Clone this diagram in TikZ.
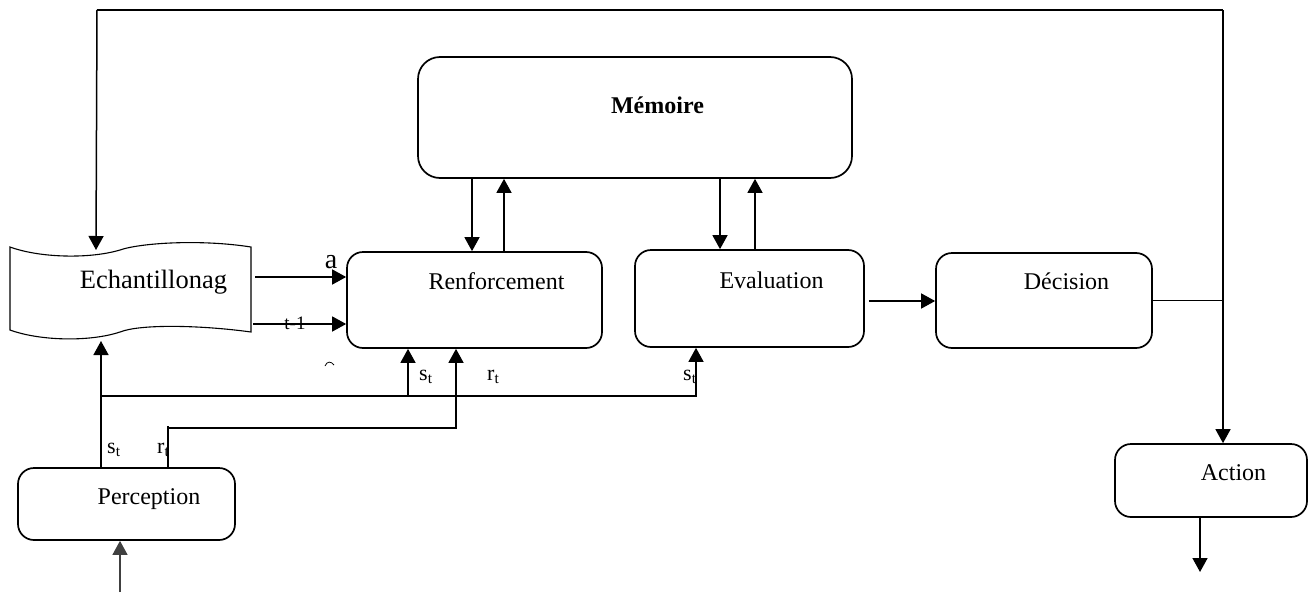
\documentclass[tikz,border=0pt]{standalone}
\usepackage{fontspec}
\setmainfont{Liberation Serif}
\usetikzlibrary{arrows.meta}

\begin{document}
\begin{tikzpicture}[x=1pt,y=-1pt,
  box/.style={draw, line width=1.7pt, rounded corners=16pt, inner sep=0pt},
  link/.style={line width=1.5pt},
  arr/.style={link, -{Triangle[length=14pt,width=15pt]}},
  txt/.style={font=\fontsize{24}{28}\selectfont, inner sep=0pt, anchor=base},
  lab/.style={font=\fontsize{22}{26}\selectfont, inner sep=0pt, anchor=base west}]
\useasboundingbox (0,0) rectangle (1313,597);

% --- blocks ---
\node[box, minimum width=434pt, minimum height=121pt, rounded corners=22pt] (mem) at (635,117.5) {};
\node[box, minimum width=255pt, minimum height=96pt] (renf) at (474.5,300) {};
\node[box, minimum width=229pt, minimum height=97pt] (eval) at (749.5,298.5) {};
\node[box, minimum width=216pt, minimum height=95pt] (dec) at (1044,300.5) {};
\node[box, minimum width=192pt, minimum height=73pt] (act) at (1211,480.5) {};
\node[box, minimum width=217pt, minimum height=72pt] (perc) at (126.5,504) {};

% punched-tape shape of the sampling block
\draw[line width=1.1pt] (10,247) .. controls (40,258) and (90,259) .. (120,250)
  .. controls (140,243) and (200,239) .. (251,247) -- (251,332)
  .. controls (200,325) and (140,324) .. (120,332)
  .. controls (90,342) and (40,341) .. (10,330) -- cycle;
\coordinate (echtop) at (96,250);
\coordinate (echbot) at (101,341);

% --- texts ---
\node[txt, font=\fontsize{24}{28}\selectfont\bfseries] (memt) at (657.5,113) {Mémoire};
\node[txt] (renft) at (496.5,289) {Renforcement};
\node[txt] (evalt) at (771.5,288) {Evaluation};
\node[txt] (dect) at (1066.5,289) {Décision};
\node[txt] (actt) at (1233.5,480) {Action};
\node[txt] (perct) at (149,504) {Perception};
\node[txt, font=\fontsize{26.5}{30}\selectfont] (echt) at (153.5,288) {Echantillonag};
\node[txt, font=\fontsize{28}{31}\selectfont] (la) at (331,268) {a};
\node[txt, font=\fontsize{19}{22}\selectfont] (lt) at (295,329) {t-1};
\node[lab] (ls1) at (107,453) {s\textsubscript{t}};
\node[lab] (lr1) at (157,453) {r\textsubscript{t}};
\node[lab] (ls2) at (419,380) {s\textsubscript{t}};
\node[lab] (lr2) at (487,380) {r\textsubscript{t}};
\node[lab] (ls3) at (683,380) {s\textsubscript{t}};
\draw[line width=0.8pt] (325,366) .. controls (327,361) and (331,361) .. (334,365);

% --- feedback loop over the top ---
\coordinate (tl) at (97,10);
\coordinate (tr) at (1223,10);
\draw[link] (tl) -- (tr);
\draw[arr] (tl) -- (echtop);
\draw[arr] (tr) -- (tr |- act.north);
\draw[link] (dec.east) -- (dec.east -| tr);
\draw[arr] (act.south -| 1200,0) -- (1200,572);

% --- memory exchanges ---
\draw[arr] (472,0 |- mem.south) -- (472,0 |- renf.north);
\draw[arr] (504,0 |- renf.north) -- (504,0 |- mem.south);
\draw[arr] (720,0 |- mem.south) -- (720,0 |- eval.north);
\draw[arr] (755,0 |- eval.north) -- (755,0 |- mem.south);

% --- sampling to reinforcement ---
\draw[arr] (255,277) -- (renf.west |- 255,277);
\draw[arr] (253,324) -- (renf.west |- 253,324);

% --- evaluation to decision ---
\draw[arr] ([shift={(4,2.5)}]eval.east) -- (dec.west |- 868,301);

% --- perception outputs ---
\draw[arr, line width=1.2pt, draw=black!75] (120,592) -- (120,0 |- perc.south);
\draw[arr] (101,0 |- perc.north) -- (echbot);
\coordinate (sj) at (101,396);
\draw[arr] (sj) -| (696,0 |- eval.south);
\draw[arr] (408,396) -- (408,0 |- renf.south);
\draw[arr] (168,0 |- perc.north) -- (168,426) -- (168,428) -| (456,0 |- renf.south);
\end{tikzpicture}
\end{document}
